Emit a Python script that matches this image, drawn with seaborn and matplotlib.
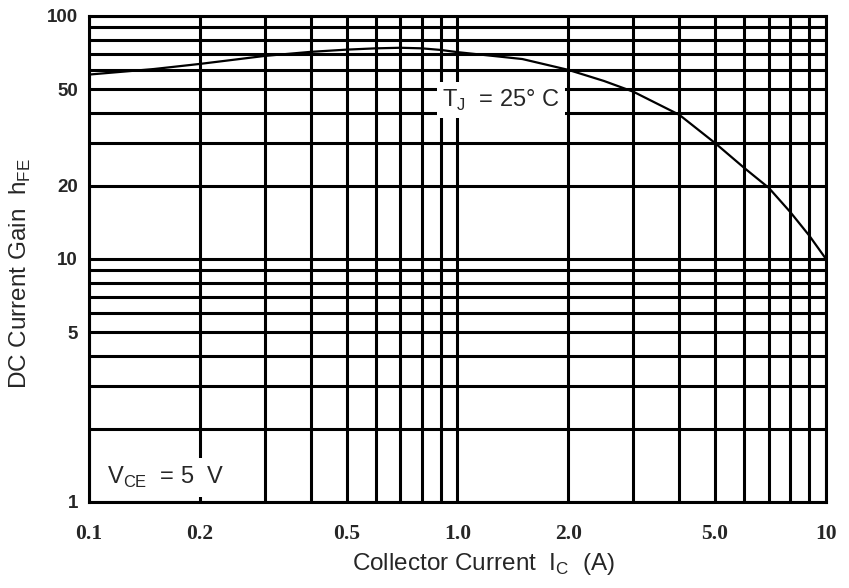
import matplotlib
matplotlib.use("Agg")
import matplotlib.pyplot as plt
from matplotlib.ticker import LogLocator, NullFormatter
import numpy as np
import seaborn as sns

# hFE vs collector current (Tj = 25 C, Vce = 5 V)
collector_current = [0.1, 0.15, 0.2, 0.3, 0.4, 0.5, 0.6, 0.7, 0.8, 0.9, 1.0, 1.5, 2.0, 2.5, 3.0, 4.0, 5.0, 6.0, 7.0, 8.0, 9.0, 10.0]
dc_gain = [57.4, 60.5, 63.5, 68.5, 71.2, 72.7, 73.6, 74.0, 73.6, 72.5, 71.0, 66.5, 60.0, 54.0, 48.8, 39.2, 30.0, 23.7, 19.6, 15.6, 12.5, 10.0]

x_ticks = [0.1, 0.2, 0.5, 1.0, 2.0, 5.0, 10]
x_tick_labels = ["0.1", "0.2", "0.5", "1.0", "2.0", "5.0", "10"]
y_ticks = [1, 5, 10, 20, 50, 100]
y_tick_labels = ["1", "5", "10", "20", "50", "100"]

sns.set_style("white")
plt.rcParams['font.family'] = ['Liberation Sans', 'DejaVu Sans']
plt.rcParams['mathtext.fontset'] = 'custom'
plt.rcParams['mathtext.rm'] = 'Liberation Sans'

fig = plt.figure(figsize=(8.49, 5.88), dpi=100)
ax = fig.add_axes([0.1048, 0.1463, 0.8681, 0.8265])

sns.lineplot(x=collector_current, y=dc_gain, ax=ax, color='black', linewidth=1.6)

ax.set_xscale('log')
ax.set_yscale('log')
ax.set_xlim(0.1, 10)
ax.set_ylim(1, 100)

ax.set_xticks(x_ticks)
ax.set_xticklabels(x_tick_labels, fontfamily='Liberation Serif', fontweight='bold', fontsize=15.5)
ax.set_yticks(y_ticks)
ax.set_yticklabels(y_tick_labels, fontweight='bold', fontsize=13.5)
ax.xaxis.set_minor_locator(LogLocator(base=10, subs=np.arange(1, 10), numticks=20))
ax.yaxis.set_minor_locator(LogLocator(base=10, subs=np.arange(1, 10), numticks=20))
ax.xaxis.set_minor_formatter(NullFormatter())
ax.yaxis.set_minor_formatter(NullFormatter())
ax.tick_params(axis='both', which='both', length=0)
ax.tick_params(axis='x', pad=16)
ax.tick_params(axis='y', pad=8)

ax.grid(True, which='both', color='black', linewidth=2.2)
for sp in ax.spines.values():
    sp.set_color('black')
    sp.set_linewidth(2.2)

ax.set_xlabel(r'Collector Current  I$_\mathregular{C}$  (A)', fontsize=17.5)
ax.xaxis.set_label_coords(0.535, -0.1)
ax.set_ylabel(r'DC Current Gain  h$_\mathregular{FE}$', fontsize=17.5)
ax.yaxis.set_label_coords(-0.076, 0.47)

# condition labels with white boxes over the grid
ax.text(0.559, 0.827, r'T$_\mathregular{J}$  = 25$\degree$ C', transform=ax.transAxes,
        ha='center', va='center', fontsize=17, zorder=5,
        bbox=dict(facecolor='white', edgecolor='none', pad=4))
ax.text(0.024, 0.05, r'V$_\mathregular{CE}$  = 5  V', transform=ax.transAxes,
        ha='left', va='center', fontsize=17, zorder=5,
        bbox=dict(facecolor='white', edgecolor='none', pad=5))

plt.savefig('out.png', dpi=100)
